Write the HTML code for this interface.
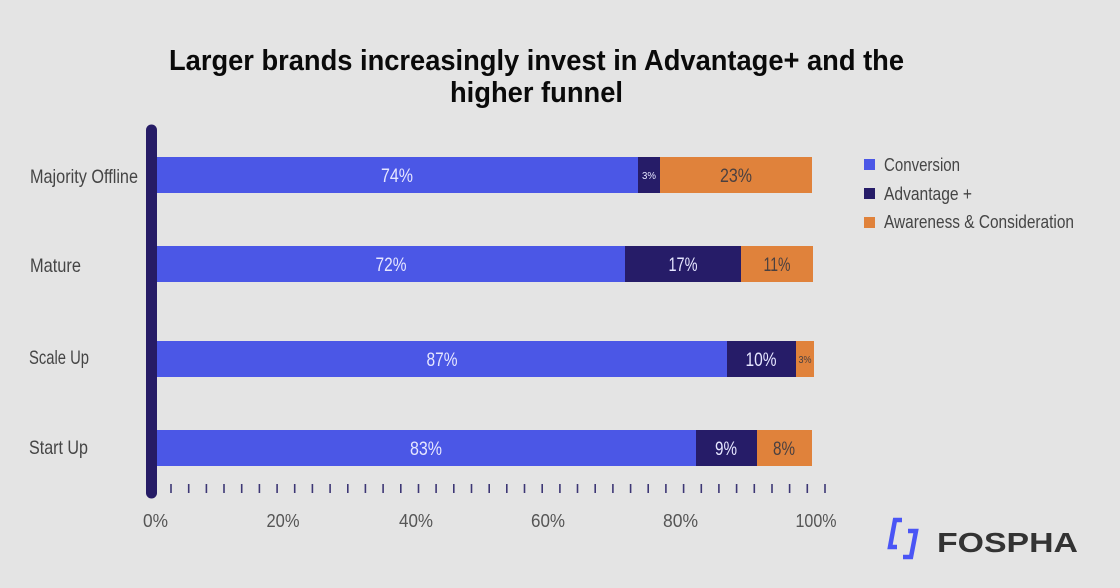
<!DOCTYPE html>
<html><head><meta charset="utf-8"><style>
html,body{margin:0;padding:0;background:#e4e4e4;}
svg{display:block;}
text{font-family:"Liberation Sans",sans-serif;}
</style></head><body>
<svg width="1120" height="588" viewBox="0 0 1120 588" xmlns="http://www.w3.org/2000/svg">
<rect width="1120" height="588" fill="#e4e4e4"/>
<!-- Title -->
<text x="169" y="70" font-size="29" font-weight="bold" fill="#0a0a0a" textLength="735" lengthAdjust="spacingAndGlyphs">Larger brands increasingly invest in Advantage+ and the</text>
<text x="450" y="102" font-size="29" font-weight="bold" fill="#0a0a0a" textLength="173" lengthAdjust="spacingAndGlyphs">higher funnel</text>

<!-- axis line -->
<line x1="151.5" y1="130" x2="151.5" y2="493" stroke="#261c66" stroke-width="11" stroke-linecap="round"/>

<!-- category labels -->
<g fill="#454545" font-size="19.5">
<text x="30" y="183" textLength="108" lengthAdjust="spacingAndGlyphs">Majority Offline</text>
<text x="30" y="272" textLength="51" lengthAdjust="spacingAndGlyphs">Mature</text>
<text x="29" y="364" textLength="60" lengthAdjust="spacingAndGlyphs">Scale Up</text>
<text x="29" y="454" textLength="59" lengthAdjust="spacingAndGlyphs">Start Up</text>
</g>

<!-- bars -->
<g>
<rect x="157" y="157" width="481" height="36" fill="#4b57e6"/>
<rect x="638" y="157" width="22" height="36" fill="#261c68"/>
<rect x="660" y="157" width="152" height="36" fill="#e0823b"/>

<rect x="157" y="246" width="468" height="36" fill="#4b57e6"/>
<rect x="625" y="246" width="116" height="36" fill="#261c68"/>
<rect x="741" y="246" width="72" height="36" fill="#e0823b"/>

<rect x="157" y="341" width="570" height="36" fill="#4b57e6"/>
<rect x="727" y="341" width="69" height="36" fill="#261c68"/>
<rect x="796" y="341" width="18" height="36" fill="#e0823b"/>

<rect x="157" y="430" width="539" height="36" fill="#4b57e6"/>
<rect x="696" y="430" width="61" height="36" fill="#261c68"/>
<rect x="757" y="430" width="55" height="36" fill="#e0823b"/>
</g>

<!-- bar labels -->
<g font-size="19" text-anchor="middle">
<text x="397" y="182" fill="#e6e6ff" textLength="32" lengthAdjust="spacingAndGlyphs">74%</text>
<text x="649" y="179" fill="#e6e6ff" font-size="10" textLength="14" lengthAdjust="spacingAndGlyphs">3%</text>
<text x="736" y="182" fill="#4a4040" textLength="32" lengthAdjust="spacingAndGlyphs">23%</text>

<text x="391" y="271" fill="#e6e6ff" textLength="31" lengthAdjust="spacingAndGlyphs">72%</text>
<text x="683" y="271" fill="#e6e6ff" textLength="29" lengthAdjust="spacingAndGlyphs">17%</text>
<text x="777" y="271" fill="#4a4040" textLength="27" lengthAdjust="spacingAndGlyphs">11%</text>

<text x="442" y="366" fill="#e6e6ff" textLength="31" lengthAdjust="spacingAndGlyphs">87%</text>
<text x="761" y="366" fill="#e6e6ff" textLength="31" lengthAdjust="spacingAndGlyphs">10%</text>
<text x="805" y="363" fill="#4a4040" font-size="10" textLength="13" lengthAdjust="spacingAndGlyphs">3%</text>

<text x="426" y="455" fill="#e6e6ff" textLength="32" lengthAdjust="spacingAndGlyphs">83%</text>
<text x="726" y="455" fill="#e6e6ff" textLength="22" lengthAdjust="spacingAndGlyphs">9%</text>
<text x="784" y="455" fill="#4a4040" textLength="22" lengthAdjust="spacingAndGlyphs">8%</text>
</g>

<!-- ticks -->
<g stroke="#3d3775" stroke-width="1.6">
<line x1="171.0" y1="484" x2="171.0" y2="493"/><line x1="188.7" y1="484" x2="188.7" y2="493"/><line x1="206.4" y1="484" x2="206.4" y2="493"/><line x1="224.0" y1="484" x2="224.0" y2="493"/><line x1="241.7" y1="484" x2="241.7" y2="493"/><line x1="259.4" y1="484" x2="259.4" y2="493"/><line x1="277.1" y1="484" x2="277.1" y2="493"/><line x1="294.7" y1="484" x2="294.7" y2="493"/><line x1="312.4" y1="484" x2="312.4" y2="493"/><line x1="330.1" y1="484" x2="330.1" y2="493"/><line x1="347.8" y1="484" x2="347.8" y2="493"/><line x1="365.4" y1="484" x2="365.4" y2="493"/><line x1="383.1" y1="484" x2="383.1" y2="493"/><line x1="400.8" y1="484" x2="400.8" y2="493"/><line x1="418.5" y1="484" x2="418.5" y2="493"/><line x1="436.1" y1="484" x2="436.1" y2="493"/><line x1="453.8" y1="484" x2="453.8" y2="493"/><line x1="471.5" y1="484" x2="471.5" y2="493"/><line x1="489.2" y1="484" x2="489.2" y2="493"/><line x1="506.8" y1="484" x2="506.8" y2="493"/><line x1="524.5" y1="484" x2="524.5" y2="493"/><line x1="542.2" y1="484" x2="542.2" y2="493"/><line x1="559.9" y1="484" x2="559.9" y2="493"/><line x1="577.5" y1="484" x2="577.5" y2="493"/><line x1="595.2" y1="484" x2="595.2" y2="493"/><line x1="612.9" y1="484" x2="612.9" y2="493"/><line x1="630.6" y1="484" x2="630.6" y2="493"/><line x1="648.2" y1="484" x2="648.2" y2="493"/><line x1="665.9" y1="484" x2="665.9" y2="493"/><line x1="683.6" y1="484" x2="683.6" y2="493"/><line x1="701.3" y1="484" x2="701.3" y2="493"/><line x1="718.9" y1="484" x2="718.9" y2="493"/><line x1="736.6" y1="484" x2="736.6" y2="493"/><line x1="754.3" y1="484" x2="754.3" y2="493"/><line x1="772.0" y1="484" x2="772.0" y2="493"/><line x1="789.6" y1="484" x2="789.6" y2="493"/><line x1="807.3" y1="484" x2="807.3" y2="493"/><line x1="825.0" y1="484" x2="825.0" y2="493"/>
</g>

<!-- x axis labels -->
<g fill="#555" font-size="18.5" text-anchor="middle">
<text x="155.5" y="527" textLength="25" lengthAdjust="spacingAndGlyphs">0%</text>
<text x="283" y="527" textLength="33" lengthAdjust="spacingAndGlyphs">20%</text>
<text x="416" y="527" textLength="34" lengthAdjust="spacingAndGlyphs">40%</text>
<text x="548" y="527" textLength="34" lengthAdjust="spacingAndGlyphs">60%</text>
<text x="680.5" y="527" textLength="35" lengthAdjust="spacingAndGlyphs">80%</text>
<text x="816" y="527" textLength="41" lengthAdjust="spacingAndGlyphs">100%</text>
</g>

<!-- legend -->
<rect x="864" y="159" width="11" height="11" fill="#4b57e6"/>
<rect x="864" y="188" width="11" height="11" fill="#261c68"/>
<rect x="864" y="217" width="11" height="11" fill="#e0823b"/>
<g fill="#454545" font-size="18">
<text x="884" y="171" textLength="76" lengthAdjust="spacingAndGlyphs">Conversion</text>
<text x="884" y="200" textLength="88" lengthAdjust="spacingAndGlyphs">Advantage +</text>
<text x="884" y="228" textLength="190" lengthAdjust="spacingAndGlyphs">Awareness &amp; Consideration</text>
</g>

<!-- logo -->
<g fill="none" stroke="#4a55f5" stroke-width="4.5" stroke-linejoin="miter">
<polyline points="902,520 895,520 890,547 897,547"/>
<polyline points="908,531 916,531 911,557 903,557"/>
</g>
<text x="937" y="552" font-size="28" font-weight="bold" fill="#333" textLength="141" lengthAdjust="spacingAndGlyphs">FOSPHA</text>
</svg>
</body></html>
